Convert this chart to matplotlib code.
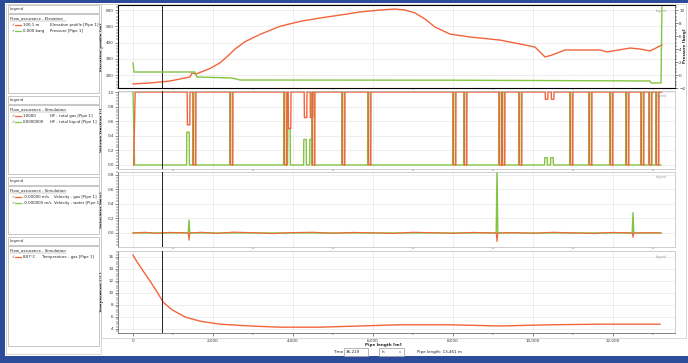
import matplotlib
matplotlib.use('Agg')
import matplotlib.pyplot as plt
from matplotlib.patches import Rectangle
from matplotlib.lines import Line2D
from matplotlib.ticker import FuncFormatter, MultipleLocator, AutoMinorLocator
import numpy as np

########
# Data #
########

# elevation profile [m] along the pipe [m]
elev_pos = [0, 425, 925, 1425, 1475, 1575, 1925, 2175, 2375, 2550, 2800, 3175, 3675,
            4175, 4675, 5175, 5675, 6175, 6550, 6800, 7050, 7300, 7550, 7925, 8425,
            9175, 9675, 10050, 10175, 10300, 10475, 10800, 11300, 11675, 11850, 12425,
            12675, 12925, 13225]
elev_m = [145, 151, 163, 188, 212, 206, 240, 275, 318, 360, 405, 450, 500,
          530, 551, 569, 588, 600, 606, 600, 582, 545, 495, 452, 434,
          415, 391, 372, 342, 311, 323, 354, 354, 354, 342, 366,
          360, 348, 385]

# pressure [barg]
press_pos = [0, 25, 1550, 1600, 2475, 2675, 8000, 12925, 12950, 13200, 13225]
press_barg = [1.85, 0.46, 0.46, -0.31, -0.46, -0.77, -0.8, -0.92, -1.23, -1.23, 11.5]

# liquid holdup events (slugs): position [m], holdup [-]
slug_pos = [1375, 1525, 2450, 3800, 3900, 4300, 4450, 4500, 5250, 5900, 8025, 8300,
            9175, 9250, 9675, 10325, 10475, 10950, 11425, 11950, 12350, 12725, 12925, 13100]
slug_holdup = [0.45, 1.0, 1.0, 1.0, 0.5, 0.35, 0.35, 1.0, 1.0, 1.0, 1.0, 1.0,
               1.0, 1.0, 1.0, 0.1, 0.1, 1.0, 1.0, 1.0, 1.0, 1.0, 1.0, 1.0]

# velocities [m/s]
vel_pos = [0, 300, 600, 900, 1200, 1380, 1400, 1420, 1700, 2100, 2500, 3000, 3500,
           4000, 4500, 5000, 5500, 6000, 6500, 7000, 7500, 8000, 8500, 9080, 9100,
           9120, 9500, 10000, 10500, 11000, 11500, 12000, 12480, 12500, 12520, 12900, 13200]
vel_gas = [0.0, 0.01, -0.005, 0.008, 0.005, 0.0, -0.1, 0.0, 0.01, -0.006, 0.012, 0.004, -0.008,
           0.006, 0.01, -0.004, 0.008, 0.002, -0.006, 0.01, 0.004, -0.005, 0.008, 0.0, -0.12,
           0.0, 0.006, -0.004, 0.01, 0.002, -0.006, 0.008, 0.0, -0.06, 0.0, 0.004, 0.0]
vel_water = [0.0, 0.0, 0.0, 0.0, 0.0, 0.0, 0.18, 0.0, 0.0, 0.0, 0.0, 0.0, 0.0,
             0.0, 0.0, 0.0, 0.0, 0.0, 0.0, 0.0, 0.0, 0.0, 0.0, 0.0, 0.9,
             0.0, 0.0, 0.0, 0.0, 0.0, 0.0, 0.0, 0.0, 0.28, 0.0, 0.0, 0.0]

# gas temperature [degC]
temp_pos = [0, 100, 250, 425, 600, 750, 975, 1300, 1675, 2175, 2925, 3675, 4675,
            5675, 6675, 7925, 9175, 10425, 11675, 13175]
temp_c = [16.3, 15.2, 13.7, 12.0, 10.2, 8.5, 7.2, 6.0, 5.3, 4.8, 4.5, 4.3, 4.3,
          4.5, 4.7, 4.7, 4.5, 4.7, 4.8, 4.8]

cursor_pos = 725

##########
# Layout #
##########

RED = '#f2643c'
GREEN = '#84c444'
BLUE = '#2c4c9a'
GRID = '#e8e8e8'
EDGE = '#a0a0a0'
FS = 3.0
LFS = 2.8

W, H = 688, 363
fig = plt.figure(figsize=(W / 100, H / 100), dpi=100)


def fx(x):
    return x / W


def fy(y):
    return 1 - y / H


def box(x0, y0, x1, y1, fc='none', ec=EDGE, lw=0.6, z=0):
    fig.patches.append(Rectangle((fx(x0), fy(y1)), fx(x1) - fx(x0), fy(y0) - fy(y1),
                                 transform=fig.transFigure, fc=fc, ec=ec, lw=lw, zorder=z))


# blue frame
box(0, 0, 5, H, fc=BLUE, ec='none')
box(0, 0, W, 3, fc=BLUE, ec='none')
box(0, 356, W, H, fc=BLUE, ec='none')
box(6, 4, 101, 354, ec='#c8c8c8', lw=0.5)
box(101, 4, 686, 338, ec='#c8c8c8', lw=0.5)

XL, XR = 118, 675
XMIN, XMAX = -375, 13550


def make_ax(top, bottom):
    ax = fig.add_axes([fx(XL), fy(bottom), fx(XR) - fx(XL), (bottom - top) / H])
    ax.set_xlim(XMIN, XMAX)
    ax.xaxis.set_major_locator(MultipleLocator(2000))
    ax.xaxis.set_minor_locator(MultipleLocator(1000))
    ax.grid(True, which='major', color=GRID, lw=0.5)
    ax.yaxis.set_minor_locator(AutoMinorLocator(5))
    ax.tick_params(labelsize=FS, length=2, width=0.4, pad=1, colors='#333333')
    ax.tick_params(which='minor', length=1.2, width=0.3)
    for sp in ['top', 'right', 'bottom']:
        ax.spines[sp].set_color('#bbbbbb')
        ax.spines[sp].set_linewidth(0.5)
    ax.spines['left'].set_color('#555555')
    ax.spines['left'].set_linewidth(0.5)
    ax.axvline(cursor_pos, color='#222222', lw=0.7, zorder=5)
    return ax


ax1 = make_ax(5, 88)
ax2 = make_ax(91, 169)
ax3 = make_ax(172, 247)
ax4 = make_ax(251, 333)

# elevation + pressure
ax1.plot(elev_pos, elev_m, color=RED, lw=1)
ax1.set_ylim(120, 631)
ax1.yaxis.set_major_locator(MultipleLocator(100))
ax1r = ax1.twinx()
ax1r.plot(press_pos, press_barg, color=GREEN, lw=1)
ax1r.set_ylim(-2.0, 10.77)
ax1r.yaxis.set_major_locator(MultipleLocator(2))
ax1r.yaxis.set_minor_locator(AutoMinorLocator(4))
ax1r.tick_params(labelsize=FS, length=2, width=0.4, pad=1, colors='#333333')
ax1r.tick_params(which='minor', length=1.2, width=0.3)
ax1r.spines['right'].set_color('#555555')
ax1r.spines['right'].set_linewidth(0.5)
fig.text(fx(685), fy(46), 'Pressure [barg]', fontsize=2.8, fontweight='bold',
         rotation=90, ha='center', va='center', color='#222222')

# volume fractions built from the slug events
hw = 30
xs, liq = [0, 40], [1.0, 0.0]
for p, h in zip(slug_pos, slug_holdup):
    xs += [p - hw - 5, p - hw, p + hw, p + hw + 5]
    liq += [0.0, h, h, 0.0]
xs.append(13200)
liq.append(0.0)
liq = np.array(liq)
ax2.plot(xs, liq, color=GREEN, lw=1)
ax2.plot(np.array(xs) + 15, 1 - liq, color=RED, lw=1)
ax2.set_ylim(-0.055, 1.014)
ax2.yaxis.set_major_locator(MultipleLocator(0.2))

# velocities
ax3.plot(vel_pos, vel_water, color=GREEN, lw=1)
ax3.plot(vel_pos, vel_gas, color=RED, lw=0.8)
ax3.set_ylim(-0.193, 0.84)
ax3.yaxis.set_major_locator(MultipleLocator(0.2))

# temperature
ax4.plot(temp_pos, temp_c, color=RED, lw=1)
ax4.set_ylim(3.33, 17.0)
ax4.yaxis.set_major_locator(MultipleLocator(2))

for ax in (ax1, ax2, ax3):
    ax.tick_params(axis='x', labelbottom=False, length=0)
ax4.spines['bottom'].set_color('#555555')
ax4.xaxis.set_major_formatter(FuncFormatter(lambda v, p: '{:,.0f}'.format(v)))
ax4.tick_params(axis='x', pad=2)
fig.text(fx(383), fy(345), 'Pipe length [m]', fontsize=FS, fontweight='bold',
         ha='center', va='center', color='#222222')

for ax, lab in [(ax1, 'Elevation profile [m]'), (ax2, 'Volume fraction [-]'),
                (ax3, 'Velocities [m/s]'), (ax4, 'Temperature [°C]')]:
    ax.set_ylabel(lab, fontsize=FS, fontweight='bold')
    ax.yaxis.set_label_coords(-0.026, 0.5)

# small marker icons at the top right of each panel
for ax in (ax1, ax2, ax3, ax4):
    ax.text(0.975, 0.93, 'Legend', transform=ax.transAxes, fontsize=2.2,
            color='#999999', ha='center', va='center')

#################
# Legend panels #
#################

legends = [
    (5, 93, 'Flow_assurance - Elevation',
     [(RED, '100.1 m', 'Elevation profile [Pipe 1]'),
      (GREEN, '0.000 barg', 'Pressure [Pipe 1]')], 50),
    (96, 174, 'Flow_assurance - Simulation',
     [(RED, '1.0000', 'HF - total gas [Pipe 1]'),
      (GREEN, '0.0000000', 'HF - total liquid [Pipe 1]')], 50),
    (177, 234, 'Flow_assurance - Simulation',
     [(RED, '-0.00000 m/s', 'Velocity - gas [Pipe 1]'),
      (GREEN, '-0.000000 m/s', 'Velocity - water [Pipe 1]')], 54),
    (237, 346, 'Flow_assurance - Simulation',
     [(RED, '8.07°C', 'Temperature - gas [Pipe 1]')], 42),
]
for top, bot, title, entries, name_x in legends:
    box(8, top, 99, top + 8, ec='#b0b0b0', lw=0.5)
    fig.text(fx(10), fy(top + 4), 'Legend', fontsize=LFS, va='center', color='#333333')
    box(8, top + 9, 99, bot, ec='#b0b0b0', lw=0.5)
    fig.text(fx(10), fy(top + 13), title, fontsize=LFS, va='center', color='#222222')
    fig.lines.append(Line2D([fx(10), fx(66)], [fy(top + 15.5)] * 2, color='#888888',
                            lw=0.3, transform=fig.transFigure))
    for i, (c, val, name) in enumerate(entries):
        yy = top + 20 + 6 * i
        fig.text(fx(11), fy(yy), '✓', fontsize=LFS, va='center', color='#555555')
        fig.lines.append(Line2D([fx(15), fx(21)], [fy(yy)] * 2, color=c, lw=0.9,
                                transform=fig.transFigure))
        fig.text(fx(23), fy(yy), val, fontsize=LFS, va='center', color='#222222')
        fig.text(fx(name_x), fy(yy), name, fontsize=LFS, va='center', color='#222222')

# bottom controls
fig.text(fx(333), fy(352), 'Time', fontsize=FS, va='center', color='#222222')
box(344, 348, 368, 356, fc='white', ec='#999999', lw=0.5, z=3)
fig.text(fx(346), fy(352), '36,219', fontsize=FS, va='center', color='#222222', zorder=4)
box(379, 348, 404, 356, fc='white', ec='#999999', lw=0.5, z=3)
fig.text(fx(382), fy(352), 'h', fontsize=FS, va='center', color='#222222', zorder=4)
fig.text(fx(399), fy(352), 'v', fontsize=2.5, va='center', color='#555555', zorder=4)
fig.text(fx(417), fy(352), 'Pipe length: 13,461 m', fontsize=FS, va='center', color='#222222')

fig.savefig('out.png', dpi=100)
